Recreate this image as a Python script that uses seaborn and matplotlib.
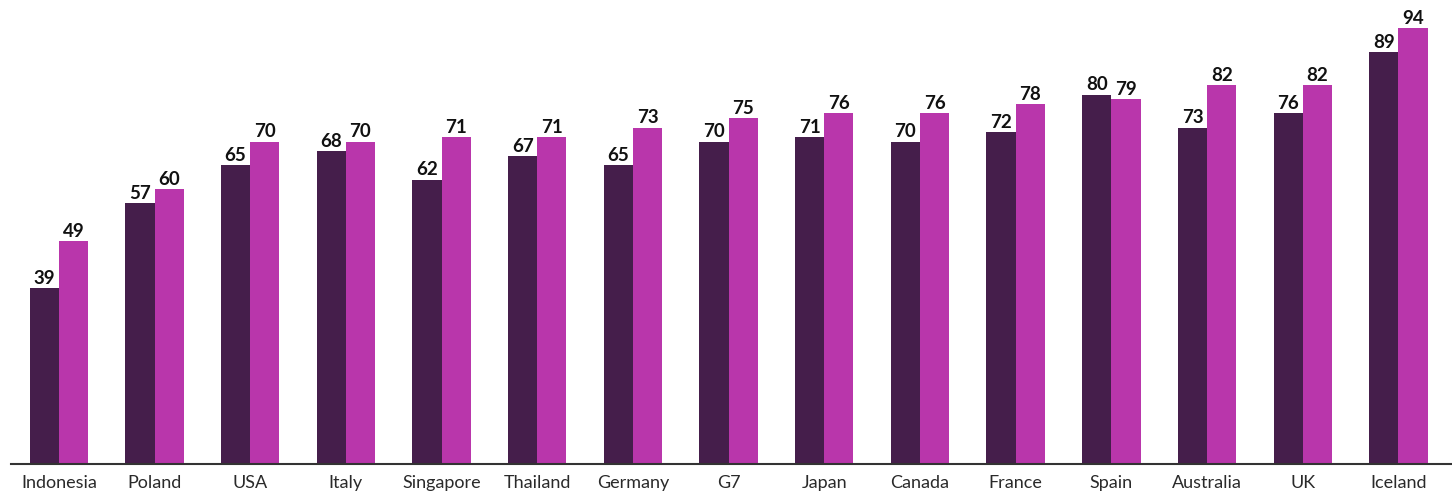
import matplotlib
matplotlib.use("Agg")
import matplotlib.pyplot as plt
import seaborn as sns
import pandas as pd

countries = ["Indonesia", "Poland", "USA", "Italy", "Singapore", "Thailand", "Germany",
             "G7", "Japan", "Canada", "France", "Spain", "Australia", "UK", "Iceland"]
series_first = [39, 57, 65, 68, 62, 67, 65, 70, 71, 70, 72, 80, 73, 76, 89]
series_second = [49, 60, 70, 70, 71, 71, 73, 75, 76, 76, 78, 79, 82, 82, 94]
series_names = ["First", "Second"]
colors = ["#451E4B", "#B936AB"]

df = pd.DataFrame({
    "country": countries * 2,
    "value": series_first + series_second,
    "series": [series_names[0]] * len(countries) + [series_names[1]] * len(countries),
})

sns.set_theme(style="white")
plt.rcParams["font.family"] = ["Lato", "DejaVu Sans"]

fig = plt.figure(figsize=(14.52, 4.91), dpi=100)
ax = fig.add_axes([11 / 1452, 27 / 491, 1 - 11 / 1452, 464 / 491])

sns.barplot(data=df, x="country", y="value", hue="series", order=countries,
            hue_order=series_names, palette=colors, width=0.61, gap=0,
            saturation=1, legend=False, linewidth=0, edgecolor="none", ax=ax)

for container in ax.containers:
    ax.bar_label(container, fmt="%d", padding=1, fontsize=13.5, fontweight="bold",
                 color="#111111")

ax.set_ylim(1.8, 100)
ax.set_xlim(-0.5, 14.56)
ax.set_xlabel("")
ax.set_ylabel("")
ax.set_yticks([])
ax.tick_params(axis="x", length=0, pad=8, labelsize=13, colors="#2a2a2a")
for side in ["top", "left", "right"]:
    ax.spines[side].set_visible(False)
ax.spines["bottom"].set_color("#333333")
ax.spines["bottom"].set_linewidth(1.5)

fig.savefig("out.png", dpi=100)
